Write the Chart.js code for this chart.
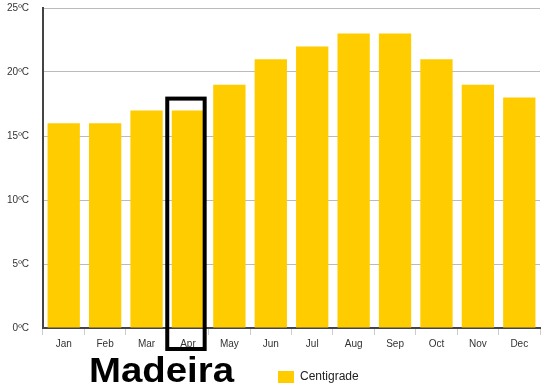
<!DOCTYPE html>
<html>
<head>
<meta charset="utf-8">
<script src="https://cdn.jsdelivr.net/npm/chart.js@4/dist/chart.umd.min.js"></script>
<style>
  html, body { margin: 0; padding: 0; background: #fff; }
  #wrap { width: 548px; height: 391px; position: relative; }
</style>
</head>
<body>
<div id="wrap"><canvas id="c" width="548" height="391"></canvas></div>
<script>
// Temperaturas médias mensais - Madeira
const months = ["Jan", "Feb", "Mar", "Apr", "May", "Jun", "Jul", "Aug", "Sep", "Oct", "Nov", "Dec"];
const centigrade = [16, 16, 17, 17, 19, 21, 22, 23, 23, 21, 19, 18];
const yTicks = [0, 5, 10, 15, 20, 25];
const seriesName = "Centigrade";
const title = "Madeira";
const highlightIndex = 3; // Apr
const highlightTop = 18;

const yellow = "#FFCC00";

// Desenha a caixa de destaque, o título e a legenda
const extras = {
  id: "extras",
  afterDatasetsDraw(chart) {
    const { ctx, chartArea, scales } = chart;
    const x = scales.x;
    const y = scales.y;
    const band = (x.getPixelForValue(1) - x.getPixelForValue(0));
    const cx = x.getPixelForValue(highlightIndex);
    const top = y.getPixelForValue(highlightTop) + 1;
    ctx.save();
    ctx.strokeStyle = "#000";
    ctx.lineWidth = 4;
    ctx.strokeRect(cx - band / 2, top, band - 4, chartArea.bottom + 21 - top);
    ctx.restore();
  },
  afterDraw(chart) {
    const { ctx } = chart;
    ctx.save();
    // título
    ctx.font = "bold 35px 'Liberation Sans', Arial, sans-serif";
    ctx.fillStyle = "#000";
    ctx.textBaseline = "alphabetic";
    const w = ctx.measureText(title).width;
    ctx.translate(89, 382);
    ctx.scale(145 / w, 1);
    ctx.fillText(title, 0, 0);
    ctx.restore();
    // legenda
    ctx.save();
    ctx.fillStyle = yellow;
    ctx.fillRect(278, 371, 16, 12);
    ctx.font = "12px 'Liberation Sans', Arial, sans-serif";
    ctx.fillStyle = "#222";
    ctx.textBaseline = "middle";
    ctx.fillText(seriesName, 300, 377);
    ctx.restore();
  }
};

new Chart(document.getElementById("c"), {
  type: "bar",
  data: {
    labels: months,
    datasets: [{
      label: seriesName,
      data: centigrade,
      backgroundColor: yellow,
      borderWidth: 0,
      categoryPercentage: 1,
      barPercentage: 0.78
    }]
  },
  options: {
    responsive: false,
    animation: false,
    layout: { padding: { top: 8, right: 8, bottom: 0, left: 0 } },
    plugins: {
      legend: { display: false },
      tooltip: { enabled: false }
    },
    scales: {
      x: {
        afterFit: (s) => { s.height = 63; },
        grid: {
          offset: true,
          drawOnChartArea: false,
          drawTicks: true,
          tickLength: 7,
          color: "#cccccc"
        },
        border: { color: "#444", width: 2 },
        ticks: {
          color: "#333",
          font: { family: "'Liberation Sans', Arial, sans-serif", size: 10 },
          padding: 3,
          maxRotation: 0
        }
      },
      y: {
        min: 0,
        max: 25,
        afterFit: (s) => { s.width = 43; s.paddingTop = 0; s.paddingBottom = 0; },
        afterBuildTicks: (s) => { s.ticks = yTicks.map((v) => ({ value: v })); },
        grid: { color: "#bbbbbb", drawTicks: false },
        border: { color: "#444", width: 2 },
        ticks: {
          color: "#333",
          font: { family: "'Liberation Sans', Arial, sans-serif", size: 10 },
          padding: 14,
          callback: (v) => v + "ºC"
        }
      }
    }
  },
  plugins: [extras]
});
</script>
</body>
</html>
